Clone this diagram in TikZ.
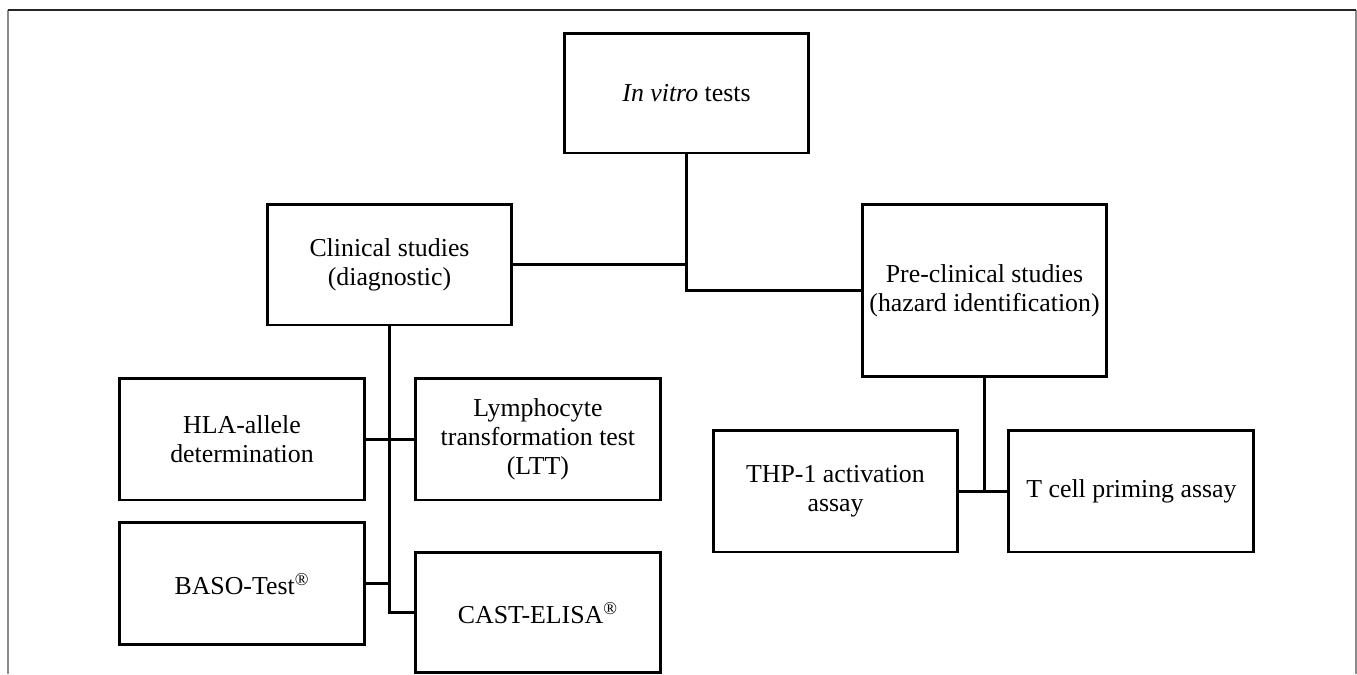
\documentclass[tikz,border=0pt]{standalone}
\usepackage{fontspec}
\setmainfont{Liberation Serif}
\usetikzlibrary{positioning}

\begin{document}
\begin{tikzpicture}[x=0.02cm,y=-0.02cm,line width=1.7pt,
                    font=\fontsize{14.7}{16.5}\selectfont]
  \tikzstyle{testbox}=[rectangle,draw=black,fill=white,text=black,align=center,
                       inner sep=0pt,minimum width=4.9cm,minimum height=2.44cm]
  \useasboundingbox (0,0) rectangle (1357,674);
  \draw[line width=0.6pt,black!45] (8,674) -- (8,10);
  \draw[line width=0.6pt,black!45] (1356,10) -- (1356,674);
  \draw[line width=0.6pt,black!85] (8,10) -- (1356,10);

  \node[testbox,minimum height=2.4cm]  (invitro) at (686.5,93)    {\textit{In vitro} tests};
  \node[testbox,minimum height=2.42cm] (clin)    at (389.5,264.5) {Clinical studies\\(diagnostic)};
  \node[testbox,minimum height=3.46cm] (pre)     at (984.5,290.5) {Pre-clinical studies\\(hazard identification)};
  \node[testbox]                       (hla)     at (242,439)     {HLA-allele\\determination};
  \node[testbox]                       (lymph)   [right=0.96cm of hla]  {Lymphocyte\\transformation test\\(LTT)};
  \node[testbox]                       (baso)    [below=0.4cm of hla]   {BASO-Test\textsuperscript{\textregistered}};
  \node[testbox,minimum height=2.4cm]  (cast)    [below=1.0cm of lymph] {CAST-ELISA\textsuperscript{\textregistered}};
  \node[testbox]                       (thp)     at (835.5,491)   {THP-1 activation\\assay};
  \node[testbox]                       (tcell)   [right=0.96cm of thp]  {T cell priming assay};

  \draw (invitro.south) |- (pre.west);
  \draw (clin.east) -- (clin.east -| invitro.south);
  \draw (clin.south) |- (cast.west);
  \draw (hla.east) -- (lymph.west);
  \draw (baso.east) -- (baso.east -| clin.south);
  \draw (pre.south) -- (pre.south |- thp.east);
  \draw (thp.east) -- (tcell.west);
\end{tikzpicture}
\end{document}
